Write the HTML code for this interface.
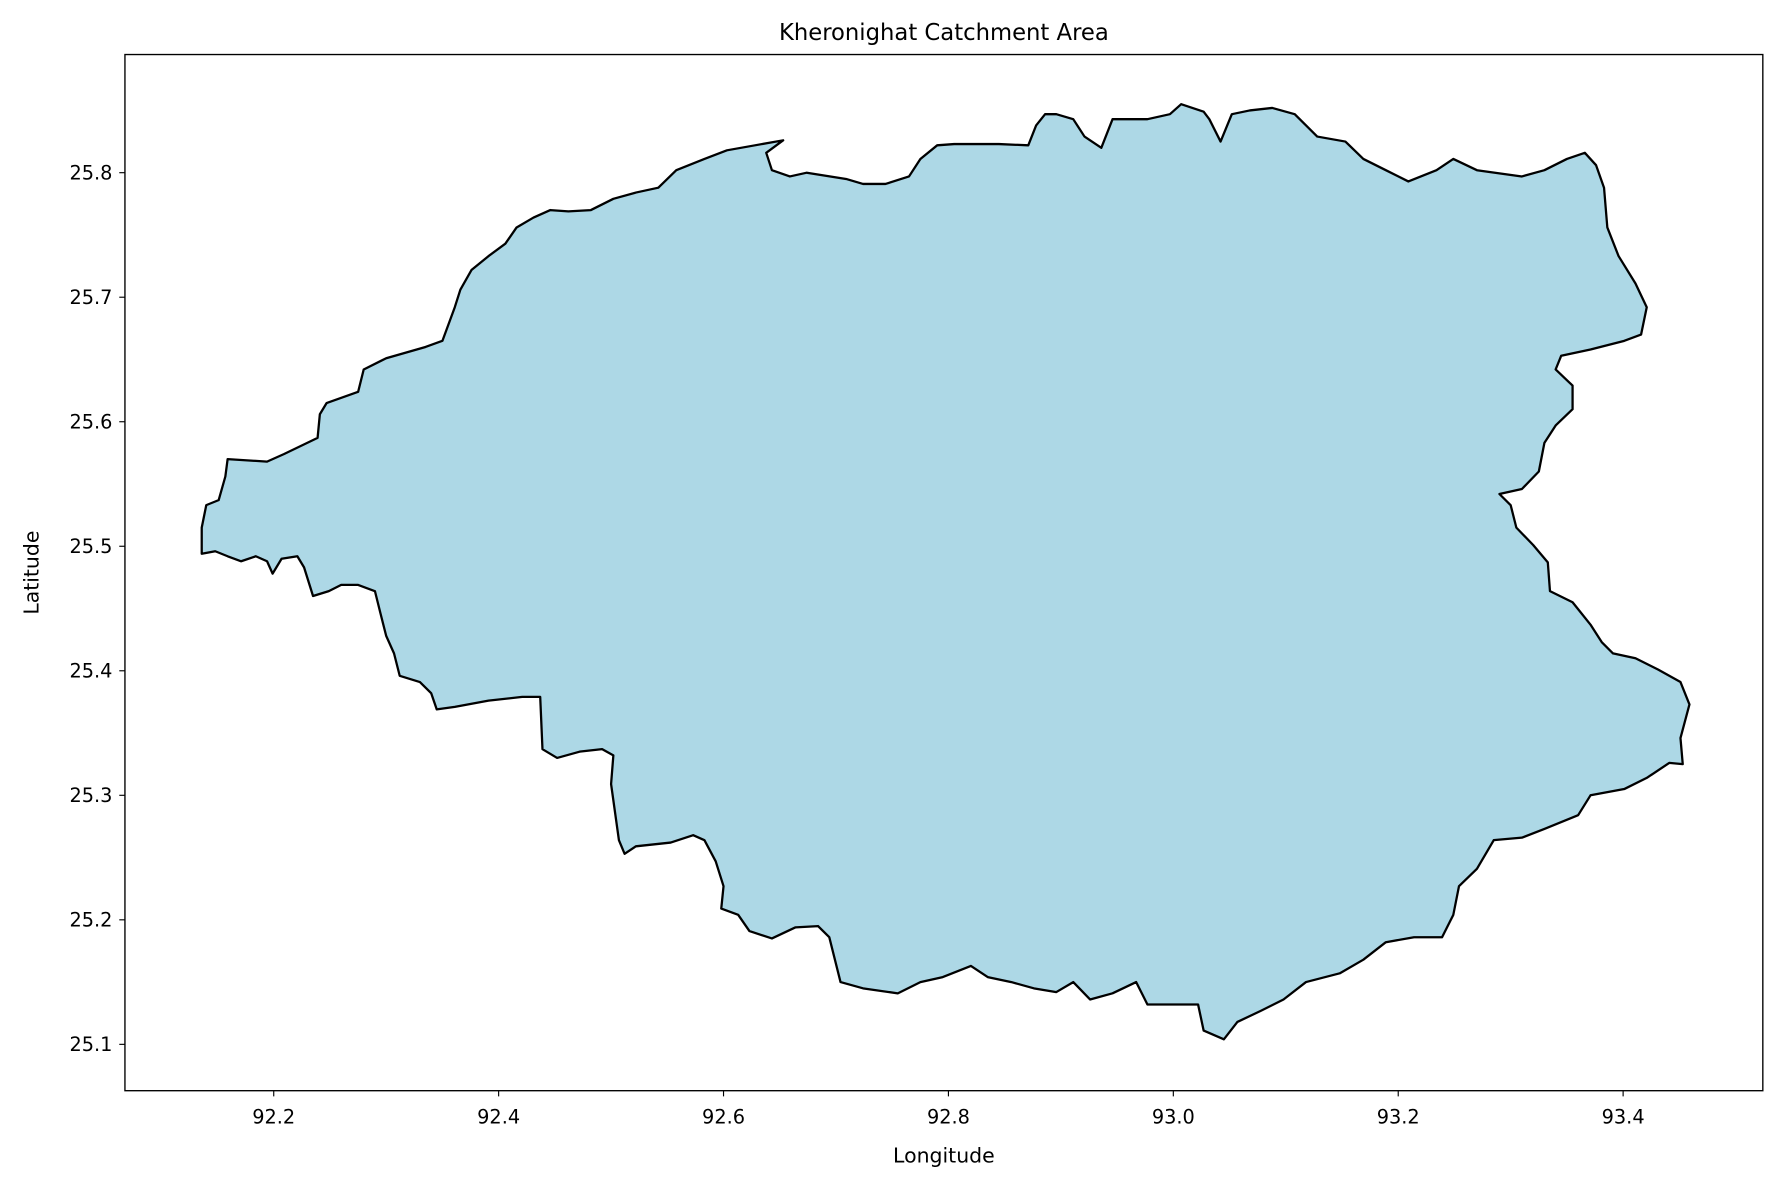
<!DOCTYPE html>
<html><head><meta charset="utf-8"><style>
html,body{margin:0;padding:0;background:#fff;}
svg{display:block;}
text{font-family:"DejaVu Sans","Liberation Sans",sans-serif;fill:#000;}
</style></head><body>
<svg id="chart" width="1781" height="1185" viewBox="0 0 1568 1043" preserveAspectRatio="none" xmlns="http://www.w3.org/2000/svg">
<text x="831" y="35" font-size="20" text-anchor="middle">Kheronighat Catchment Area</text>
<g id="plot"></g>
<rect x="110" y="48" width="1442" height="912" fill="none" stroke="#000" stroke-width="1.2"/>
<g id="xticks"></g><g id="yticks"></g>
<text x="831" y="1023" font-size="18" text-anchor="middle">Longitude</text>
<text x="34" y="504" font-size="18" text-anchor="middle" transform="rotate(-90 34 504)">Latitude</text>
</svg>
<script>
const lon=[92.136,92.148,92.159,92.171,92.184,92.194,92.199,92.207,92.221,92.227,92.235,92.249,92.260,92.275,92.290,92.295,92.300,92.307,92.312,92.330,92.340,92.345,92.361,92.391,92.421,92.437,92.439,92.452,92.472,92.492,92.502,92.500,92.507,92.512,92.522,92.553,92.573,92.583,92.593,92.600,92.598,92.613,92.623,92.643,92.664,92.684,92.694,92.704,92.724,92.755,92.775,92.795,92.820,92.835,92.856,92.876,92.896,92.911,92.926,92.946,92.967,92.977,92.997,93.022,93.027,93.045,93.057,93.078,93.098,93.118,93.148,93.169,93.189,93.214,93.239,93.249,93.254,93.270,93.285,93.310,93.330,93.360,93.371,93.401,93.421,93.441,93.453,93.451,93.459,93.451,93.431,93.411,93.391,93.381,93.371,93.355,93.335,93.333,93.320,93.305,93.300,93.290,93.310,93.325,93.330,93.340,93.355,93.355,93.340,93.345,93.371,93.401,93.416,93.421,93.411,93.396,93.386,93.383,93.376,93.366,93.350,93.330,93.310,93.270,93.249,93.234,93.209,93.189,93.169,93.153,93.128,93.108,93.088,93.068,93.052,93.042,93.032,93.027,93.007,92.997,92.977,92.946,92.936,92.921,92.911,92.896,92.886,92.878,92.871,92.845,92.805,92.790,92.775,92.765,92.744,92.724,92.709,92.674,92.659,92.643,92.638,92.653,92.628,92.603,92.583,92.558,92.542,92.522,92.502,92.482,92.462,92.446,92.431,92.416,92.406,92.391,92.376,92.366,92.361,92.350,92.335,92.300,92.280,92.275,92.247,92.241,92.239,92.209,92.194,92.159,92.157,92.151,92.140,92.136];
const lat=[25.494,25.496,25.492,25.488,25.492,25.488,25.478,25.490,25.492,25.483,25.460,25.464,25.469,25.469,25.464,25.446,25.428,25.414,25.396,25.391,25.382,25.369,25.371,25.376,25.379,25.379,25.337,25.330,25.335,25.337,25.332,25.309,25.264,25.253,25.259,25.262,25.268,25.264,25.247,25.227,25.209,25.204,25.191,25.185,25.194,25.195,25.186,25.150,25.145,25.141,25.150,25.154,25.163,25.154,25.150,25.145,25.142,25.150,25.136,25.141,25.150,25.132,25.132,25.132,25.111,25.104,25.118,25.127,25.136,25.150,25.157,25.168,25.182,25.186,25.186,25.204,25.227,25.241,25.264,25.266,25.273,25.284,25.300,25.305,25.314,25.326,25.325,25.346,25.373,25.391,25.401,25.410,25.414,25.423,25.437,25.455,25.464,25.487,25.501,25.515,25.533,25.542,25.546,25.560,25.583,25.597,25.610,25.629,25.642,25.653,25.658,25.665,25.670,25.692,25.711,25.733,25.756,25.788,25.806,25.816,25.811,25.802,25.797,25.802,25.811,25.802,25.793,25.802,25.811,25.825,25.829,25.847,25.852,25.850,25.847,25.825,25.843,25.849,25.855,25.847,25.843,25.843,25.820,25.829,25.843,25.847,25.847,25.838,25.822,25.823,25.823,25.822,25.811,25.797,25.791,25.791,25.795,25.800,25.797,25.802,25.816,25.826,25.822,25.818,25.811,25.802,25.788,25.784,25.779,25.770,25.769,25.770,25.764,25.756,25.743,25.733,25.722,25.706,25.692,25.665,25.660,25.651,25.642,25.624,25.615,25.606,25.587,25.574,25.568,25.570,25.556,25.537,25.533,25.515];
const xTicks=[92.2,92.4,92.6,92.8,93.0,93.2,93.4];
const yTicks=[25.1,25.2,25.3,25.4,25.5,25.6,25.7,25.8];
const xs=v=>241+(v-92.2)*990;
const ys=v=>152+(25.8-v)*1096;
const NS="http://www.w3.org/2000/svg";
let d="";
for(let i=0;i<lon.length;i++){d+=(i?"L":"M")+xs(lon[i]).toFixed(1)+","+ys(lat[i]).toFixed(1);}
d+="Z";
const p=document.createElementNS(NS,"path");
p.setAttribute("d",d);p.setAttribute("fill","#add8e6");p.setAttribute("stroke","#000");p.setAttribute("stroke-width","2");p.setAttribute("stroke-linejoin","round");


document.getElementById("plot").appendChild(p);
const xg=document.getElementById("xticks");
xTicks.forEach(v=>{
 const x=xs(v);
 const l=document.createElementNS(NS,"line");
 l.setAttribute("x1",x);l.setAttribute("x2",x);l.setAttribute("y1",960);l.setAttribute("y2",965);l.setAttribute("stroke","#000");
 
 
 xg.appendChild(l);
 const t=document.createElementNS(NS,"text");
 t.setAttribute("x",x);t.setAttribute("y",989);t.setAttribute("font-size","17");t.setAttribute("text-anchor","middle");
 t.textContent=v.toFixed(1);
 
 
 xg.appendChild(t);
});
const yg=document.getElementById("yticks");
yTicks.forEach(v=>{
 const y=ys(v);
 const l=document.createElementNS(NS,"line");
 l.setAttribute("x1",105);l.setAttribute("x2",110);l.setAttribute("y1",y);l.setAttribute("y2",y);l.setAttribute("stroke","#000");
 
 
 yg.appendChild(l);
 const t=document.createElementNS(NS,"text");
 t.setAttribute("x",99);t.setAttribute("y",y+6);t.setAttribute("font-size","17");t.setAttribute("text-anchor","end");
 t.textContent=v.toFixed(1);
 
 
 yg.appendChild(t);
});
</script>
</body></html>
